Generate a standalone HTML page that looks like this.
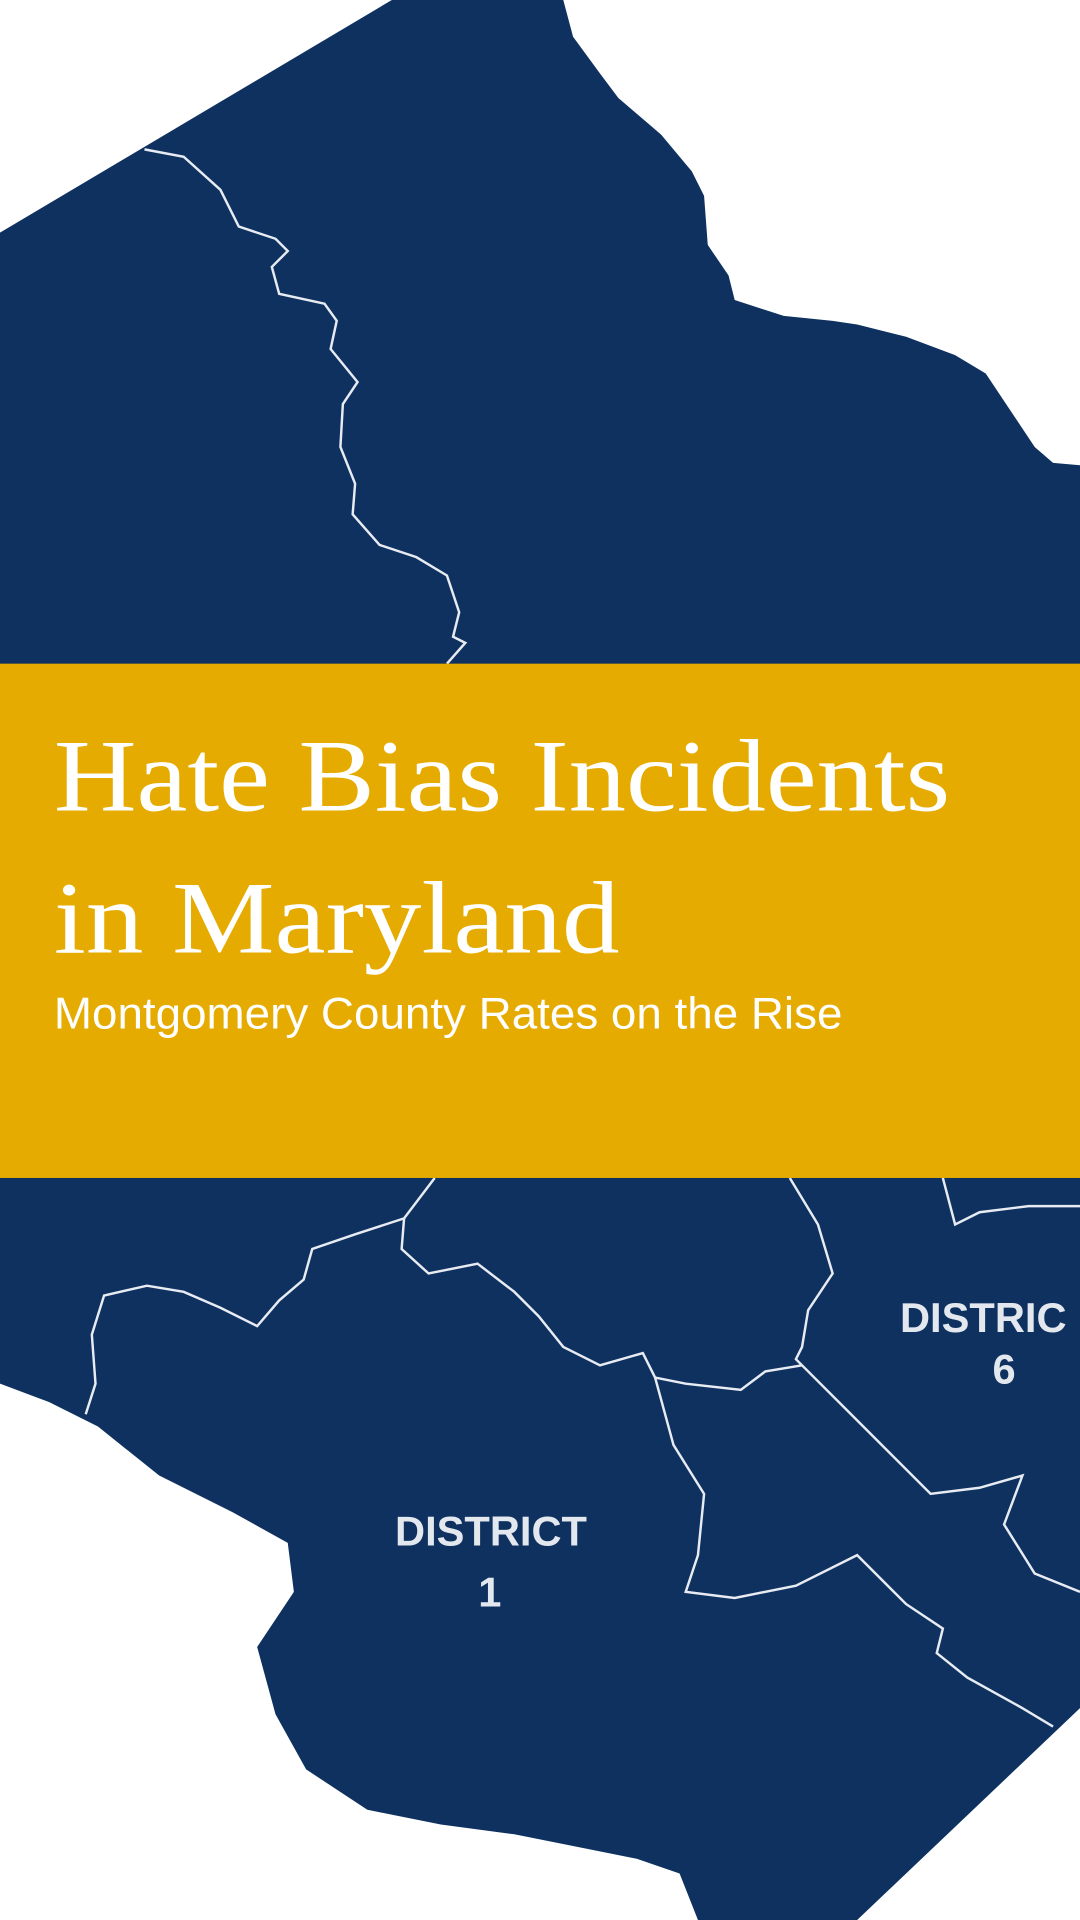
<!DOCTYPE html>
<html><head><meta charset="utf-8"><style>
html,body{margin:0;padding:0;background:#fff;}
svg{display:block;}
</style></head><body>
<svg width="1080" height="1920" viewBox="0 0 882 1568" preserveAspectRatio="none" xmlns="http://www.w3.org/2000/svg">
<rect width="882" height="1568" fill="#ffffff"/>
<path fill="#0e3160" d="M0,190 L320,0 L460,0 L468,30 L490,60 L505,80 L540,110 L565,140 L575,160 L578,200 L595,225 L600,245 L640,258 L680,262 L700,265 L740,275 L780,290 L805,305 L825,335 L845,365 L860,378 L882,380 L882,1395 L700,1568 L570,1568 L555,1530 L520,1518 L470,1508 L420,1498 L360,1490 L300,1478 L250,1445 L225,1400 L210,1345 L240,1300 L235,1260 L190,1235 L130,1205 L80,1165 L40,1145 L0,1130 Z"/>
<g fill="none" stroke="#e8ecf2" stroke-width="2">
<path d="M118,122 L150,128 L180,155 L195,185 L225,195 L235,205 L222,218 L228,240 L265,248 L275,262 L270,285 L292,312 L280,330 L278,365 L290,395 L288,420 L310,445 L340,455 L365,470 L375,500 L370,520 L380,525 L365,542"/>
<path d="M355,962 L330,995 L290,1008 L255,1020 L248,1045 L228,1062 L210,1083 L180,1068 L150,1055 L120,1050 L85,1058 L75,1090 L78,1130 L70,1155"/>
<path d="M330,995 L328,1020 L350,1040 L390,1032 L420,1055 L440,1075 L460,1100 L490,1115 L525,1105 L535,1125 L560,1130 L605,1135 L625,1120 L655,1115"/>
<path d="M645,962 L668,1000 L680,1040 L660,1070 L655,1100 L650,1110 L690,1150 L730,1190 L760,1220 L800,1215 L835,1205 L820,1245 L845,1285 L882,1300"/>
<path d="M535,1125 L550,1180 L575,1220 L570,1270 L560,1300 L600,1305 L650,1295 L700,1270 L740,1310 L770,1330 L765,1350 L790,1370 L835,1395 L860,1410"/>
<path d="M770,962 L780,1000 L800,990 L840,985 L882,985"/>
</g>
<text x="401" y="1262" font-family="Liberation Sans, sans-serif" font-weight="bold" font-size="34" fill="#e3e7ee" text-anchor="middle">DISTRICT</text>
<text x="400" y="1312" font-family="Liberation Sans, sans-serif" font-weight="bold" font-size="34" fill="#e3e7ee" text-anchor="middle">1</text>
<text x="735" y="1088" font-family="Liberation Sans, sans-serif" font-weight="bold" font-size="34" fill="#e3e7ee">DISTRIC</text>
<text x="820" y="1130" font-family="Liberation Sans, sans-serif" font-weight="bold" font-size="34" fill="#e3e7ee" text-anchor="middle">6</text>
<rect x="0" y="542" width="882" height="420" fill="#e6ab00"/>
<text x="44" y="662" font-family="Liberation Serif, serif" font-size="84" fill="#ffffff" textLength="732" lengthAdjust="spacingAndGlyphs">Hate Bias Incidents</text>
<text x="44" y="778" font-family="Liberation Serif, serif" font-size="84" fill="#ffffff" textLength="462" lengthAdjust="spacingAndGlyphs">in Maryland</text>
<text x="44" y="840" font-family="Liberation Sans, sans-serif" font-size="36" fill="#ffffff" textLength="644" lengthAdjust="spacingAndGlyphs">Montgomery County Rates on the Rise</text>
</svg>
</body></html>
